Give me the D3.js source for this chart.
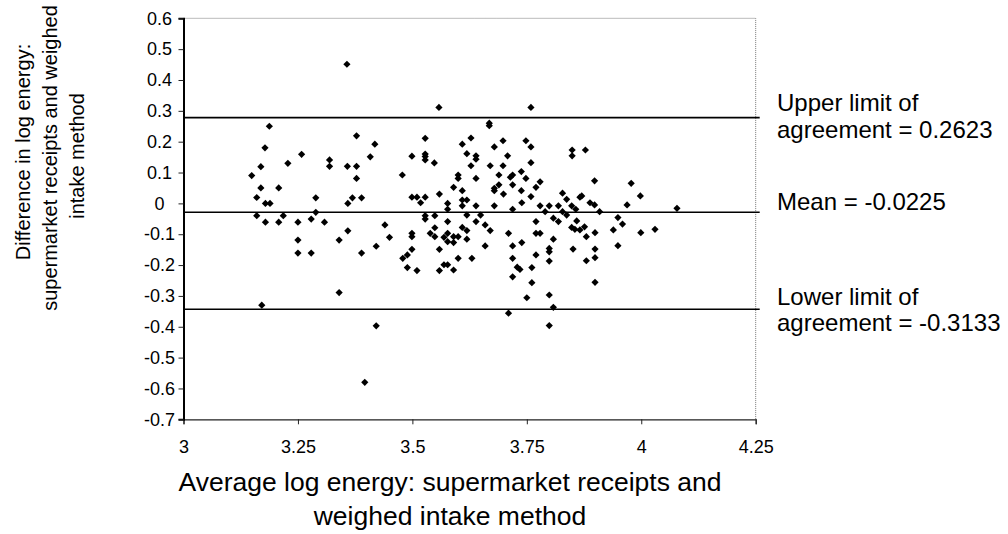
<!DOCTYPE html>
<html>
<head>
<meta charset="utf-8">
<script src="https://cdn.jsdelivr.net/npm/d3@7"></script>
<style>
  html, body { margin: 0; padding: 0; background: #fff; }
  svg { display: block; font-family: "Liberation Sans", Arial, sans-serif; }
</style>
</head>
<body>
<svg id="chart" width="1008" height="534"></svg>
<script>
// ---- data ----
const avgLog = [
  3.357, 3.558, 3.1875, 3.178, 3.169, 3.149, 3.228, 3.258, 3.319, 3.319, 3.358, 3.378, 3.378, 3.378, 3.408, 3.418,
  3.478, 3.499, 3.528, 3.528, 3.528, 3.528, 3.548,
  3.160, 3.169, 3.160, 3.179, 3.189, 3.179, 3.208, 3.208, 3.218, 3.250, 3.250, 3.250, 3.279, 3.279, 3.289, 3.289,
  3.308, 3.171, 3.340, 3.340, 3.359, 3.359, 3.369, 3.389, 3.389, 3.421, 3.421, 3.440, 3.450, 3.499, 3.499, 3.499,
  3.479, 3.489, 3.489, 3.510, 3.499, 3.510, 3.518, 3.528, 3.528, 3.528, 3.549, 3.539, 3.549, 3.549, 3.559, 3.559,
  3.559, 3.569, 3.569, 3.577, 3.577, 3.577, 3.577, 3.577, 3.577,
  3.759, 3.668, 3.668, 3.609, 3.628, 3.619, 3.639, 3.639, 3.628, 3.679, 3.698, 3.708, 3.670, 3.698, 3.748, 3.759,
  3.759, 3.849, 3.849, 3.878,
  3.600, 3.600, 3.639, 3.689, 3.714, 3.719, 3.738, 3.748, 3.590, 3.609, 3.679, 3.689, 3.679, 3.719, 3.699, 3.738,
  3.770, 3.779, 3.759, 3.590, 3.590, 3.600, 3.590, 3.600, 3.609, 3.609, 3.619, 3.619, 3.609, 3.619, 3.619, 3.630,
  3.639, 3.639, 3.649, 3.659, 3.659, 3.670, 3.679, 3.710, 3.719, 3.719, 3.719, 3.719, 3.729, 3.735, 3.739, 3.739,
  3.710, 3.750, 3.761, 3.761, 3.770, 3.770, 3.779, 3.770, 3.779, 3.790, 3.799, 3.799, 3.799, 3.799, 3.799, 3.799,
  3.808, 3.808, 3.808, 3.819, 3.819, 3.828, 3.828, 3.837, 3.837, 3.848, 3.857, 3.848, 3.859, 3.866, 3.870, 3.855,
  3.866, 3.876, 3.880, 3.851, 3.880, 3.888, 3.898, 3.909, 3.899, 3.899, 3.899, 3.899, 3.898, 3.939, 3.949, 3.949,
  3.959, 3.969, 3.978, 3.998, 3.999, 4.030, 4.078,
  3.396
];
const diffLog = [
  0.451, 0.311, 0.250, 0.180, 0.119, 0.090, 0.130, 0.159, 0.141, 0.120, 0.120, 0.219, 0.120, 0.081, 0.151, 0.192,
  0.092, 0.153, 0.211, 0.160, 0.152, 0.141, 0.131,
  0.019, 0.050, -0.040, 0.000, 0.000, -0.061, 0.050, -0.061, -0.040, -0.061, -0.119, -0.161, -0.051, -0.161, 0.018, -0.029,
  -0.061, -0.330, -0.119, -0.289, 0.000, -0.089, 0.018, 0.018, -0.161, -0.139, -0.397, -0.070, -0.110, -0.097, -0.108, -0.149,
  -0.178, -0.167, -0.208, -0.218, 0.020, 0.020, 0.002, 0.020, -0.040, -0.051, -0.040, -0.097, -0.079, -0.108, 0.030, -0.149,
  -0.218, -0.110, -0.199, -0.199, 0.000, -0.019, -0.059, -0.097, -0.124,
  0.311, 0.260, 0.252, 0.192, 0.212, 0.161, 0.154, 0.143, 0.122, 0.183, 0.203, 0.154, 0.122, 0.122, 0.203, 0.183,
  0.132, 0.173, 0.154, 0.173,
  0.092, 0.081, 0.081, 0.092, 0.085, 0.092, 0.103, 0.081, 0.052, 0.041, 0.049, 0.060, 0.041, 0.060, 0.030, 0.041,
  0.052, 0.070, 0.022, -0.108, -0.127, -0.108, -0.216, -0.178, 0.011, -0.008, 0.011, -0.038, -0.078, -0.088, -0.116, -0.178,
  -0.008, -0.059, -0.038, -0.070, -0.138, -0.088, -0.008, -0.097, -0.019, -0.138, -0.178, -0.238, -0.207, -0.214, -0.127, 0.002,
  -0.356, -0.306, -0.208, -0.257, -0.059, -0.097, -0.097, -0.167, -0.008, -0.027, -0.008, -0.146, -0.157, -0.187, -0.297, -0.396,
  -0.116, -0.337, -0.048, -0.059, -0.008, 0.033, -0.027, 0.013, -0.038, -0.008, -0.019, -0.078, -0.057, 0.020, 0.024, -0.084,
  -0.086, -0.076, -0.108, -0.148, -0.186, 0.002, -0.005, -0.027, -0.095, -0.148, -0.176, -0.256, 0.073, -0.086, -0.046, -0.137,
  -0.067, -0.005, 0.065, 0.024, -0.095, -0.084, -0.016,
  -0.580
];
const xTicks = [3, 3.25, 3.5, 3.75, 4, 4.25];
const yTicks = [0.6, 0.5, 0.4, 0.3, 0.2, 0.1, 0, -0.1, -0.2, -0.3, -0.4, -0.5, -0.6, -0.7];
const refLineValues = [0.278, -0.029, -0.343];
const refLabels = [
  ["Upper limit of", "agreement = 0.2623"],
  ["Mean = -0.0225"],
  ["Lower limit of", "agreement = -0.3133"]
];
const xTitle = ["Average log energy: supermarket receipts and", "weighed intake method"];
const yTitle = ["Difference in log energy:", "supermarket receipts and weighed", "intake method"];

// ---- layout ----
const plotL = 183.5, plotR = 755.7, plotT = 18.3, plotB = 419.3;
const x = d3.scaleLinear().domain([3, 4.25]).range([plotL, plotR]);
const y = d3.scaleLinear().domain([-0.7, 0.6]).range([plotB, plotT]);
const svg = d3.select("#chart");

// plot frame top/right dotted
svg.append("path")
  .attr("d", `M${plotL},${plotT}H${plotR}V${plotB}`)
  .attr("fill", "none").attr("stroke", "#777").attr("stroke-width", 1)
  .attr("stroke-dasharray", "1,1");

// x axis
const fmt = d => String(+d.toFixed(2));
const gx = svg.append("g").attr("transform", `translate(0,${plotB})`)
  .call(d3.axisBottom(x).tickValues(xTicks).tickSize(5).tickPadding(16).tickFormat(fmt));
gx.select(".domain").attr("stroke", "#222").attr("stroke-width", 1.2);
gx.selectAll(".tick line").attr("stroke", "#222");
gx.selectAll("text").attr("font-size", 18).attr("fill", "#000")
  .attr("font-family", "Liberation Sans, Arial, sans-serif");

// y axis
const gy = svg.append("g").attr("transform", `translate(${plotL},0)`)
  .call(d3.axisLeft(y).tickValues(yTicks).tickSize(5).tickFormat(fmt));
gy.select(".domain").attr("stroke", "#000").attr("stroke-width", 2);
gy.selectAll(".tick line").attr("stroke", "#222");
gy.selectAll("text").attr("font-size", 18).attr("fill", "#000")
  .attr("text-anchor", "middle").attr("x", -24)
  .attr("font-family", "Liberation Sans, Arial, sans-serif");

// reference lines
svg.selectAll(".ref").data(refLineValues).join("line")
  .attr("class", "ref")
  .attr("x1", plotL).attr("x2", plotR + 4)
  .attr("y1", d => y(d)).attr("y2", d => y(d))
  .attr("stroke", "#000").attr("stroke-width", 1.6);

// points
const pts = avgLog.map((v, i) => [v, diffLog[i]]);
svg.append("g").selectAll("path").data(pts).join("path")
  .attr("d", d3.symbol(d3.symbolSquare, 26))
  .attr("transform", d => `translate(${x(d[0])},${y(d[1])}) rotate(45)`)
  .attr("fill", "#000");

// right labels
const labelX = 777;
const labelY = [[103, 130], [202], [297, 323]];
refLabels.forEach((lines, i) => {
  lines.forEach((t, j) => {
    svg.append("text").attr("x", labelX).attr("y", labelY[i][j])
      .attr("dy", "0.35em").attr("font-size", 24).text(t);
  });
});

// x title
xTitle.forEach((t, i) => {
  svg.append("text").attr("x", 450).attr("y", 482 + i * 34)
    .attr("dy", "0.35em").attr("text-anchor", "middle").attr("font-size", 26.5).text(t);
});

// y title
const yCenters = [23, 50, 77];
const yMid = [152, 158, 156];
yTitle.forEach((t, i) => {
  svg.append("text")
    .attr("transform", `translate(${yCenters[i]},${yMid[i]}) rotate(-90)`)
    .attr("dy", "0.35em").attr("text-anchor", "middle").attr("font-size", 20)
    .text(t);
});
</script>
</body>
</html>
